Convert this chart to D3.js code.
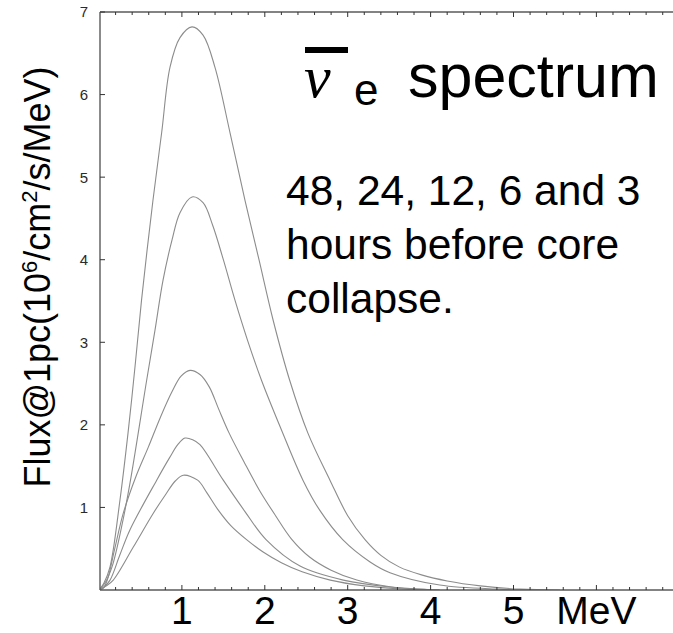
<!DOCTYPE html>
<html>
<head>
<meta charset="utf-8">
<script src="https://cdn.jsdelivr.net/npm/d3@7"></script>
<style>
  html, body { margin: 0; padding: 0; background: #fff; }
  svg { display: block; }
</style>
</head>
<body>
<svg id="chart" width="673" height="633"></svg>
<script>
// Energy tick labels (MeV) and flux ticks
const xTickValues = [1, 2, 3, 4, 5, 6];
const xTickLabels = ["1", "2", "3", "4", "5", "MeV"];
const yTickValues = [1, 2, 3, 4, 5, 6, 7];

// Hours before core collapse for each spectrum
const hoursBefore = [3, 6, 12, 24, 48];

// Spectra: [energy (MeV), flux (10^6 /cm^2/s/MeV)]
const spectrum3h = [
  [0, 0], [0.06, 0.085], [0.133, 0.28], [0.253, 1.09], [0.35, 1.90], [0.434, 2.70],
  [0.513, 3.51], [0.651, 4.72], [0.756, 5.54], [0.856, 6.33], [0.977, 6.69],
  [1.122, 6.82], [1.255, 6.72], [1.399, 6.33], [1.58, 5.54], [1.761, 4.72],
  [1.93, 4.0], [2.10, 3.27], [2.30, 2.54], [2.52, 1.90], [2.786, 1.33],
  [3.0, 0.90], [3.209, 0.61], [3.40, 0.42], [3.62, 0.28], [3.90, 0.18],
  [4.2, 0.11], [4.6, 0.05], [5.08, 0.01], [5.56, 0]
];
const spectrum6h = [
  [0, 0], [0.072, 0.085], [0.157, 0.28], [0.29, 0.85], [0.38, 1.33], [0.575, 2.54],
  [0.676, 3.15], [0.772, 3.75], [0.881, 4.24], [0.977, 4.57], [1.122, 4.76],
  [1.255, 4.69], [1.37, 4.42], [1.50, 4.00], [1.64, 3.51], [1.79, 3.03],
  [1.96, 2.54], [2.20, 1.94], [2.46, 1.33], [2.66, 0.97], [2.94, 0.61],
  [3.27, 0.34], [3.51, 0.21], [4.11, 0.06], [4.837, 0.01], [5.32, 0]
];
const spectrum12h = [
  [0, 0], [0.05, 0.02], [0.10, 0.12], [0.19, 0.50], [0.293, 0.93], [0.44, 1.36],
  [0.595, 1.73], [0.74, 2.09], [0.88, 2.40], [0.99, 2.59], [1.098, 2.66],
  [1.218, 2.61], [1.33, 2.46], [1.44, 2.20], [1.57, 1.90], [1.75, 1.55],
  [1.94, 1.20], [2.13, 0.90], [2.32, 0.62], [2.54, 0.40], [2.80, 0.24],
  [3.11, 0.12], [3.51, 0.04], [4.10, 0]
];
const spectrum24h = [
  [0, 0], [0.06, 0.036], [0.133, 0.12], [0.25, 0.42], [0.374, 0.73], [0.696, 1.33],
  [0.85, 1.60], [0.95, 1.76], [1.037, 1.84], [1.13, 1.82], [1.218, 1.76],
  [1.499, 1.33], [1.761, 0.95], [2.015, 0.61], [2.425, 0.29], [2.947, 0.12],
  [3.51, 0.036], [4.113, 0]
];
const spectrum48h = [
  [0, 0], [0.084, 0.048], [0.172, 0.12], [0.414, 0.52], [0.655, 0.93], [0.80, 1.15],
  [0.92, 1.32], [1.017, 1.39], [1.19, 1.33], [1.30, 1.18], [1.43, 0.98],
  [1.59, 0.78], [1.78, 0.61], [1.98, 0.46], [2.20, 0.33], [2.45, 0.22],
  [2.79, 0.12], [3.2, 0.05], [3.7, 0.01], [4.0, 0]
];
const spectra = [spectrum3h, spectrum6h, spectrum12h, spectrum24h, spectrum48h];

const svg = d3.select("#chart");
const plotLeft = 100, plotTop = 12, plotBottom = 590, plotRight = 690;

// Energy scale (MeV) and flux scale
const x = d3.scaleLinear().domain([0, 7]).range([99, 99 + 7 * 82.9]);
const y = d3.scaleLinear().domain([0, 7]).range([plotBottom, plotTop]);

const axisColor = "#5a5a5a";

svg.append("defs").append("clipPath").attr("id", "plot-clip")
  .append("rect")
  .attr("x", plotLeft).attr("y", plotTop)
  .attr("width", plotRight - plotLeft).attr("height", plotBottom - plotTop);

// Curves
const line = d3.line()
  .x(d => x(d[0]))
  .y(d => y(d[1]))
  .curve(d3.curveCatmullRom.alpha(0.5));

svg.append("g")
  .attr("clip-path", "url(#plot-clip)")
  .selectAll("path")
  .data(spectra)
  .join("path")
  .attr("d", line)
  .attr("fill", "none")
  .attr("stroke", "#8c8c8c")
  .attr("stroke-width", 1.1);

// Frame lines
const frame = svg.append("g").attr("stroke", axisColor).attr("fill", "none");
frame.append("line").attr("x1", plotLeft).attr("x2", plotLeft).attr("y1", plotTop).attr("y2", plotBottom).attr("stroke-width", 1.4);
frame.append("line").attr("x1", plotLeft).attr("x2", plotRight).attr("y1", plotTop).attr("y2", plotTop).attr("stroke-width", 1.6);
frame.append("line").attr("x1", plotLeft).attr("x2", plotRight).attr("y1", plotBottom).attr("y2", plotBottom).attr("stroke-width", 1.6);

// Frame ticks: minor every 0.2 MeV, major on whole MeV
const frameTicks = d3.range(1, 35).map(i => i / 5);
const isMajor = d => Math.abs(d - Math.round(d)) < 1e-6;
const tickG = svg.append("g").attr("stroke", "#333").attr("stroke-width", 1);
tickG.selectAll("line.tb")
  .data(frameTicks)
  .join("line")
  .attr("class", "tb")
  .attr("x1", d => x(d)).attr("x2", d => x(d))
  .attr("y1", plotBottom)
  .attr("y2", d => plotBottom - (isMajor(d) ? 5 : 3));
tickG.selectAll("line.tt")
  .data(frameTicks)
  .join("line")
  .attr("class", "tt")
  .attr("x1", d => x(d)).attr("x2", d => x(d))
  .attr("y1", plotTop)
  .attr("y2", d => plotTop + (isMajor(d) ? 5 : 3));
tickG.selectAll("line.tl")
  .data(yTickValues)
  .join("line")
  .attr("class", "tl")
  .attr("x1", plotLeft).attr("x2", plotLeft + 5)
  .attr("y1", d => y(d)).attr("y2", d => y(d));

// Flux tick labels
svg.append("g")
  .selectAll("text")
  .data(yTickValues)
  .join("text")
  .attr("x", 84)
  .attr("y", d => y(d))
  .attr("dy", "0.36em")
  .attr("text-anchor", "middle")
  .attr("font-family", "Liberation Sans, Arial, sans-serif")
  .attr("font-size", 15)
  .attr("fill", "#2a2a2a")
  .text(d => d);

// Energy labels
svg.append("g")
  .selectAll("text")
  .data(xTickValues)
  .join("text")
  .attr("x", d => x(d))
  .attr("y", 624)
  .attr("text-anchor", "middle")
  .attr("font-family", "Liberation Sans, Arial, sans-serif")
  .attr("font-size", 39)
  .attr("fill", "#000")
  .text((d, i) => xTickLabels[i]);

// Vertical axis title
const yTitle = svg.append("text")
  .attr("transform", "translate(50,277) rotate(-90)")
  .attr("text-anchor", "middle")
  .attr("font-family", "Liberation Sans, Arial, sans-serif")
  .attr("font-size", 36)
  .attr("fill", "#000");
yTitle.append("tspan").text("Flux@1pc(10");
yTitle.append("tspan").attr("font-size", 22).attr("dy", -13).text("6");
yTitle.append("tspan").attr("dy", 13).text("/cm");
yTitle.append("tspan").attr("font-size", 22).attr("dy", -13).text("2");
yTitle.append("tspan").attr("dy", 13).text("/s/MeV)");

// Title: anti-electron-neutrino spectrum
const title = svg.append("g");
title.append("rect").attr("x", 305).attr("y", 47).attr("width", 43).attr("height", 6).attr("fill", "#000");
title.append("text")
  .attr("x", 304).attr("y", 97)
  .attr("font-family", "Liberation Serif, Times New Roman, serif")
  .attr("font-style", "italic")
  .attr("font-size", 60)
  .text("ν");
title.append("text")
  .attr("x", 354).attr("y", 105)
  .attr("font-family", "Liberation Sans, Arial, sans-serif")
  .attr("font-size", 44)
  .text("e");
title.append("text")
  .attr("x", 408).attr("y", 97)
  .attr("font-family", "Liberation Sans, Arial, sans-serif")
  .attr("font-size", 61)
  .text("spectrum");

// Caption
const caption = ["48, 24, 12, 6 and 3", "hours before core", "collapse."];
svg.append("g")
  .selectAll("text")
  .data(caption)
  .join("text")
  .attr("x", 286)
  .attr("y", (d, i) => 205 + i * 54)
  .attr("font-family", "Liberation Sans, Arial, sans-serif")
  .attr("font-size", 42.5)
  .attr("fill", "#000")
  .text(d => d);
</script>
</body>
</html>
